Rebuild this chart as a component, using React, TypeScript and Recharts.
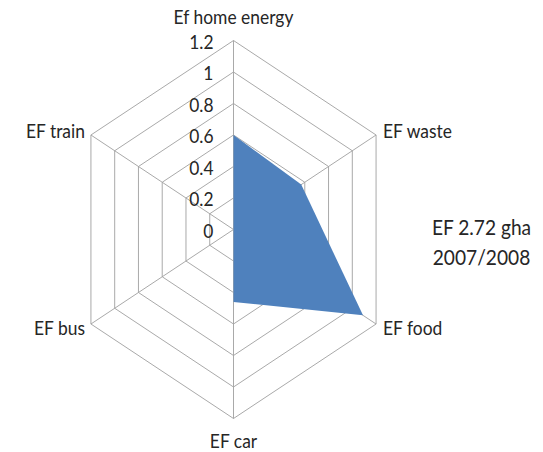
import { RadarChart, Radar, PolarGrid, PolarAngleAxis, PolarRadiusAxis } from 'recharts'

// values (gha), sum = 2.72
const categories = ['Ef home energy', 'EF waste', 'EF food', 'EF car', 'EF bus', 'EF train']
const footprint = [0.6, 0.57, 1.09, 0.46, 0, 0]
const radiusTicks = [0, 0.2, 0.4, 0.6, 0.8, 1, 1.2]
const noteLines = ['EF 2.72 gha', '2007/2008']

const data = categories.map((name, i) => ({ name, value: footprint[i] }))

// the original is squeezed horizontally, so the whole chart is drawn wide and scaled
const SX = 0.871
const W = 543
const H = 452
const CW = Math.round(W / SX)
const CX = 233.5 / SX
const CY = 229.5
const R = 189

const FONT = 'Lato, "Open Sans", sans-serif'
const FONT_SIZE = 20
const NOTE_SIZE = 22
const TEXT = '#262626'
const GRID = '#a3a3a3'

function AngleTick(props: any) {
  const { x, y, payload } = props
  const dx = x - CX
  const dy = y - CY
  const len = Math.sqrt(dx * dx + dy * dy) || 1
  const ux = dx / len
  const uy = dy / len
  const vx = CX + ux * R
  const vy = CY + uy * R
  let tx = vx
  let ty = vy
  let anchor: 'start' | 'middle' | 'end' = 'middle'
  if (Math.abs(ux) < 0.1) {
    ty = uy < 0 ? vy - 16 : vy + 30
  } else {
    anchor = ux > 0 ? 'start' : 'end'
    tx = vx + (ux > 0 ? 7 : -6) / SX
    ty = uy < 0 ? vy + 3.5 : vy + 11.5
  }
  return (
    <text x={tx} y={ty} textAnchor={anchor} fill={TEXT} fontSize={FONT_SIZE} fontFamily={FONT}>
      {payload.value}
    </text>
  )
}

function RadiusTick(props: any) {
  const { x, y, payload } = props
  return (
    <text x={x - 20 / SX} y={y + 8.5} textAnchor="end" fill={TEXT} fontSize={FONT_SIZE} fontFamily={FONT}>
      {payload.value}
    </text>
  )
}

export default function App() {
  return (
    <div style={{ position: 'absolute', left: 0, top: 0, width: W, height: H, overflow: 'hidden', background: '#fff' }}>
      <div style={{ position: 'relative', width: CW, height: H, transform: `scaleX(${SX})`, transformOrigin: '0 0' }}>
        <RadarChart
          width={CW}
          height={H}
          data={data}
          cx={CX}
          cy={CY}
          outerRadius={R}
          startAngle={90}
          endAngle={-270}
          margin={{ top: 0, right: 0, bottom: 0, left: 0 }}
        >
          <PolarGrid stroke={GRID} strokeWidth={1} gridType="polygon" />
          <PolarAngleAxis dataKey="name" tick={<AngleTick />} tickLine={false} axisLine={false} />
          <PolarRadiusAxis
            angle={90}
            domain={[0, 1.2]}
            ticks={radiusTicks as any}
            tickCount={7}
            tick={<RadiusTick />}
            axisLine={false}
            tickLine={false}
          />
          <Radar dataKey="value" fill="#4f81bd" fillOpacity={1} stroke="none" isAnimationActive={false} />
        </RadarChart>
        <svg width={CW} height={H} style={{ position: 'absolute', left: 0, top: 0, pointerEvents: 'none' }}>
          {noteLines.map((line, i) => (
            <text key={line} x={481.5 / SX} y={235 + i * 30} textAnchor="middle" fill={TEXT} fontSize={NOTE_SIZE} fontFamily={FONT}>
              {line}
            </text>
          ))}
        </svg>
      </div>
    </div>
  )
}
